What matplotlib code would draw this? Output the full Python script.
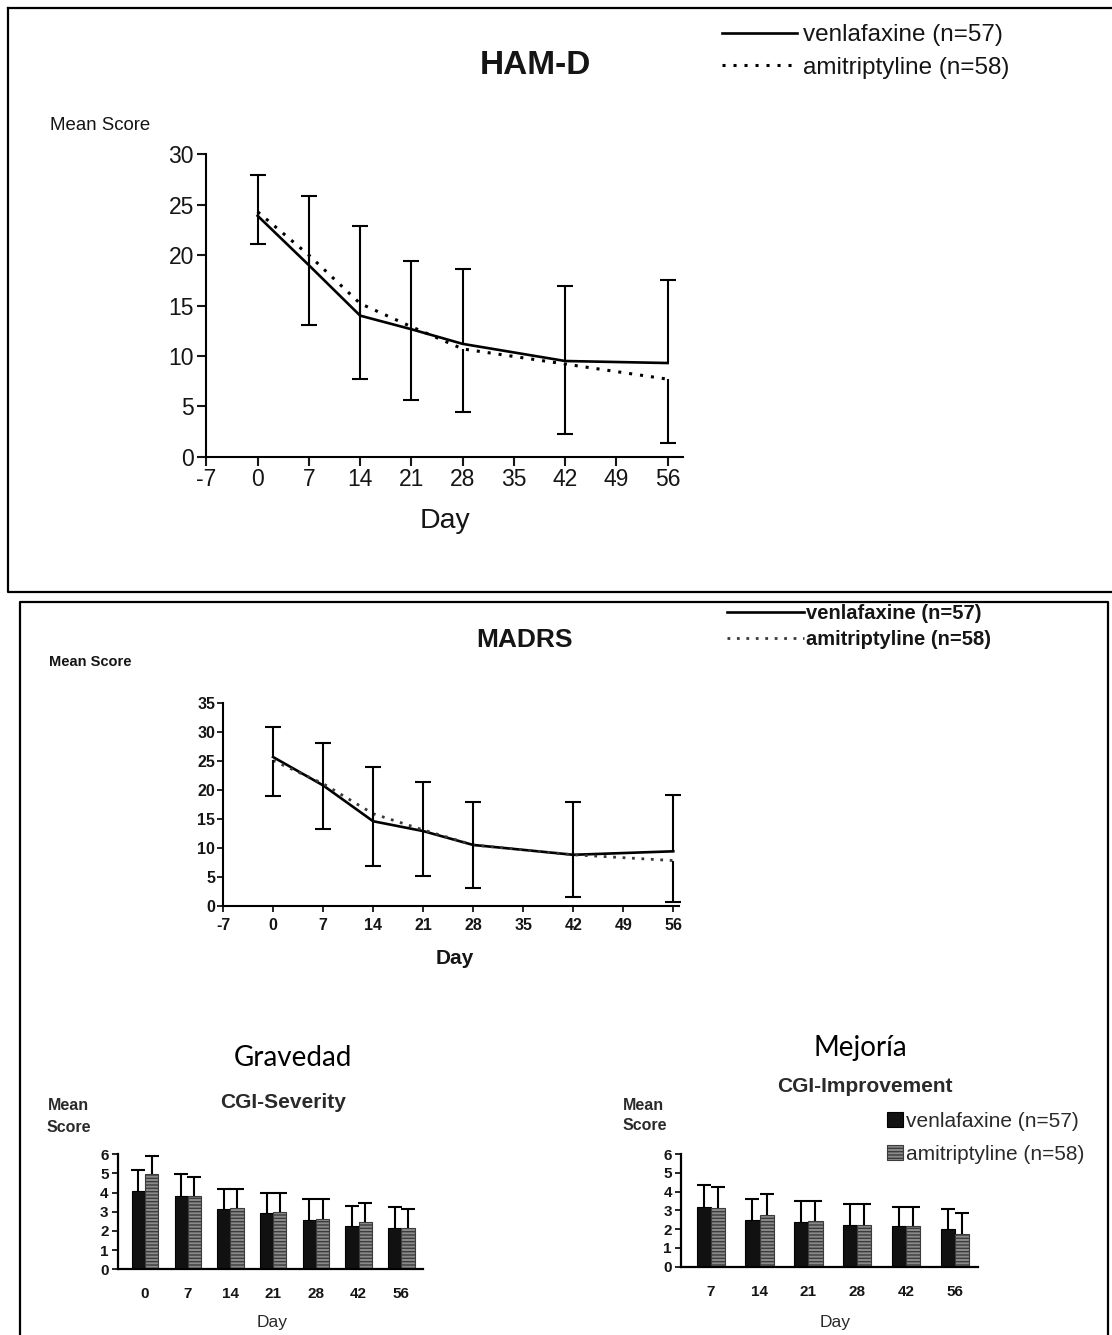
"""
HAM-D / MADRS / CGI panels: venlafaxine vs amitriptyline.
Run: python plot.py
"""
import numpy as np
import matplotlib
matplotlib.use("Agg")
import matplotlib.pyplot as plt
from matplotlib.lines import Line2D

plt.rcParams["font.family"] = ["Liberation Sans", "DejaVu Sans"]
plt.rcParams["axes.unicode_minus"] = False

W, H = 1112, 1335
INK = "#151515"
NARROW = ["Liberation Sans Narrow", "Liberation Sans", "DejaVu Sans"]
CALIBRI_LIKE = ["Lato", "Open Sans", "DejaVu Sans"]

# --- data ---
line_days = [0, 7, 14, 21, 28, 42, 56]
line_ticks = [-7, 0, 7, 14, 21, 28, 35, 42, 49, 56]

hamd_venla = [23.9, 19.0, 14.0, 12.65, 11.2, 9.5, 9.3]
hamd_amit = [24.3, 20.0, 15.2, 12.9, 10.7, 9.2, 7.7]
hamd_venla_sd = [4.0, 6.9, 8.9, 6.8, 7.4, 7.4, 8.2]
hamd_amit_sd = [3.2, 6.9, 7.5, 7.3, 6.3, 6.9, 6.35]

madrs_venla = [25.7, 20.8, 14.6, 12.9, 10.5, 8.8, 9.4]
madrs_amit = [25.1, 21.1, 15.9, 13.1, 10.5, 8.8, 7.8]
madrs_venla_sd = [5.2, 7.4, 9.3, 8.5, 7.5, 9.1, 9.7]
madrs_amit_sd = [6.15, 7.9, 9.0, 8.0, 7.5, 7.3, 7.2]

cgis_days = ["0", "7", "14", "21", "28", "42", "56"]
cgis_venla = [4.1, 3.85, 3.15, 2.95, 2.55, 2.25, 2.15]
cgis_amit = [4.95, 3.8, 3.2, 3.0, 2.65, 2.45, 2.15]
cgis_venla_sd = [1.1, 1.1, 1.05, 1.05, 1.1, 1.05, 1.1]
cgis_amit_sd = [0.95, 1.0, 1.0, 1.0, 1.0, 1.0, 1.0]

cgii_days = ["7", "14", "21", "28", "42", "56"]
cgii_venla = [3.2, 2.5, 2.4, 2.2, 2.15, 2.0]
cgii_amit = [3.1, 2.75, 2.45, 2.2, 2.15, 1.75]
cgii_venla_sd = [1.15, 1.1, 1.1, 1.15, 1.05, 1.05]
cgii_amit_sd = [1.15, 1.1, 1.05, 1.15, 1.05, 1.1]

LBL_V = "venlafaxine (n=57)"
LBL_A = "amitriptyline (n=58)"

fig = plt.figure(figsize=(W / 100, H / 100), dpi=100)


def ax_px(left, top, right, bottom):
    return fig.add_axes([left / W, 1 - bottom / H, (right - left) / W, (bottom - top) / H])


def txt(x, y, s, **kw):
    kw.setdefault("ha", "center")
    kw.setdefault("va", "center")
    kw.setdefault("color", INK)
    fig.text(x / W, 1 - y / H, s, **kw)


def frame_line(xs, ys, lw=1.5):
    fig.add_artist(Line2D([x / W for x in xs], [1 - y / H for y in ys],
                          transform=fig.transFigure, color="black", lw=lw,
                          solid_capstyle="projecting"))


def err_up(ax, x, y, sd, lw, cap):
    y = np.asarray(y)
    top = y + np.asarray(sd)
    ax.vlines(x, y, top, color="black", lw=lw, clip_on=False)
    ax.plot(x, top, ls="none", marker="_", ms=cap, mew=lw, color="black", clip_on=False)


def err_down(ax, x, y, sd, lw, cap):
    y = np.asarray(y)
    bot = y - np.asarray(sd)
    ax.vlines(x, bot, y, color="black", lw=lw, clip_on=False)
    ax.plot(x, bot, ls="none", marker="_", ms=cap, mew=lw, color="black", clip_on=False)


def clean(ax, lw):
    for s in ("top", "right"):
        ax.spines[s].set_visible(False)
    for s in ("left", "bottom"):
        ax.spines[s].set_linewidth(lw)
    ax.patch.set_alpha(0)


# panel frames
frame_line([8, 8, 1120], [8.3, 592, 592], lw=1.6)
frame_line([8, 1120], [8.3, 8.3], lw=1.6)
frame_line([20, 20, 1107.7, 1107.7], [1345, 602.3, 602.3, 1345], lw=1.6)

# ---------------- HAM-D ----------------
ax = ax_px(206.4, 154.3, 683, 456.8)
clean(ax, 1.5)
l1, = ax.plot(line_days, hamd_venla, color="black", lw=1.9, label=LBL_V, clip_on=False)
l2, = ax.plot(line_days, hamd_amit, color="black", lw=2.2, ls=(0, (1, 2.6)), label=LBL_A,
              clip_on=False)
err_up(ax, line_days, hamd_venla, hamd_venla_sd, 1.5, 12)
err_down(ax, line_days, hamd_amit, hamd_amit_sd, 1.5, 12)
ax.set_xlim(-7, 58.1)
ax.set_ylim(0, 30)
ax.set_xticks(line_ticks)
ax.set_yticks(range(0, 31, 5))
ax.tick_params(axis="both", direction="out", length=6.5, width=1.5, colors=INK)
ax.tick_params(axis="x", pad=1.5)
ax.tick_params(axis="y", pad=2.5)
for lab in ax.get_xticklabels() + ax.get_yticklabels():
    lab.set_fontfamily(NARROW)
    lab.set_fontsize(16.5)
txt(100, 125, "Mean Score", fontsize=13.4)
txt(445, 521, "Day", fontsize=20.5)
txt(535, 66, "HAM-D", fontsize=24, fontweight="bold")
fig.legend(handles=[l1, l2], loc="upper left", bbox_to_anchor=(722 / W, 1 - 24 / H),
           frameon=False, fontsize=17.5, handlelength=3.1, handletextpad=0.25,
           labelspacing=0.45, borderpad=0, borderaxespad=0, labelcolor=INK)

# ---------------- MADRS ----------------
ax = ax_px(223, 703.2, 679, 905.7)
clean(ax, 1.5)
m1, = ax.plot(line_days, madrs_venla, color="black", lw=1.9, label=LBL_V, clip_on=False)
m2, = ax.plot(line_days, madrs_amit, color="#3a3a3a", lw=2.0, ls=(0, (1, 2.4)), label=LBL_A,
              clip_on=False)
err_up(ax, line_days, madrs_venla, madrs_venla_sd, 1.5, 11)
err_down(ax, line_days, madrs_amit, madrs_amit_sd, 1.5, 11)
ax.set_xlim(-7, 56.8)
ax.set_ylim(0, 35)
ax.set_xticks(line_ticks)
ax.set_yticks(range(0, 36, 5))
ax.tick_params(axis="both", direction="out", length=4.5, width=1.3, colors=INK,
               labelsize=11.5)
ax.tick_params(axis="x", pad=4)
ax.tick_params(axis="y", pad=1)
for lab in ax.get_xticklabels() + ax.get_yticklabels():
    lab.set_fontweight("bold")
txt(90, 662, "Mean Score", fontsize=10.5, fontweight="bold")
txt(455, 958, "Day", fontsize=15, fontweight="bold")
txt(525, 640, "MADRS", fontsize=19, fontweight="bold")
fig.legend(handles=[m1, m2], loc="upper left", bbox_to_anchor=(727 / W, 1 - 604 / H),
           frameon=False, prop={"size": 14.5, "weight": "bold"}, handlelength=3.8,
           handletextpad=0.1, labelspacing=0.35, borderpad=0, borderaxespad=0,
           labelcolor=INK)


# ---------------- CGI bars ----------------
def cgi_panel(left, top, right, bottom, xlim, w, days, venla, amit, venla_sd, amit_sd):
    ax = ax_px(left, top, right, bottom)
    clean(ax, 1.6)
    x = np.arange(len(days))
    b1 = ax.bar(x - w / 2, venla, w, color="#111111", edgecolor="black", lw=0.8,
                label=LBL_V)
    b2 = ax.bar(x + w / 2, amit, w, color="#8a8a8a", edgecolor="#3c3c3c", lw=0.8,
                hatch="-----", label=LBL_A)
    err_up(ax, x - w / 2, venla, venla_sd, 1.5, 10)
    err_up(ax, x + w / 2, amit, amit_sd, 1.5, 10)
    ax.set_xlim(*xlim)
    ax.set_ylim(0, 6)
    ax.set_xticks(x)
    ax.set_xticklabels(days)
    ax.set_yticks(range(0, 7))
    ax.tick_params(axis="y", direction="out", length=4, width=1.3, pad=2.5,
                   labelsize=11, colors=INK)
    ax.tick_params(axis="x", length=0, pad=13, labelsize=11, colors=INK)
    for lab in ax.get_xticklabels() + ax.get_yticklabels():
        lab.set_fontweight("black")
    return b1, b2


cgi_panel(117.7, 1154.3, 422.7, 1269.3, (-0.64, 6.5), 0.31,
          cgis_days, cgis_venla, cgis_amit, cgis_venla_sd, cgis_amit_sd)
txt(68, 1106, "Mean", fontsize=11.5, fontweight="bold", color="#2a2a2a")
txt(69, 1127, "Score", fontsize=11.5, fontweight="bold", color="#2a2a2a")
txt(283, 1102, "CGI-Severity", fontsize=15, fontweight="bold", color="#2a2a2a")
txt(293, 1058, "Gravedad", fontsize=20, family=CALIBRI_LIKE, color="black")
txt(272, 1323, "Day", fontsize=12.5, color="#2a2a2a")

c1, c2 = cgi_panel(681, 1154, 977.7, 1266.7, (-0.61, 5.47), 0.29,
                   cgii_days, cgii_venla, cgii_amit, cgii_venla_sd, cgii_amit_sd)
txt(643, 1106, "Mean", fontsize=11.5, fontweight="bold", color="#2a2a2a")
txt(645, 1126, "Score", fontsize=11.5, fontweight="bold", color="#2a2a2a")
txt(865, 1087, "CGI-Improvement", fontsize=15, fontweight="bold", color="#2a2a2a")
txt(860, 1048, "Mejoría", fontsize=20, family=CALIBRI_LIKE, color="black")
txt(835, 1322, "Day", fontsize=12.5, color="#2a2a2a")
fig.legend(handles=[c1, c2], loc="upper left", bbox_to_anchor=(887 / W, 1 - 1112 / H),
           frameon=False, fontsize=15, handlelength=0.77, handleheight=0.72,
           handletextpad=0.12, labelspacing=0.68, borderpad=0, borderaxespad=0,
           labelcolor="#2a2a2a")

fig.savefig("out.png", dpi=100)
plt.close(fig)
